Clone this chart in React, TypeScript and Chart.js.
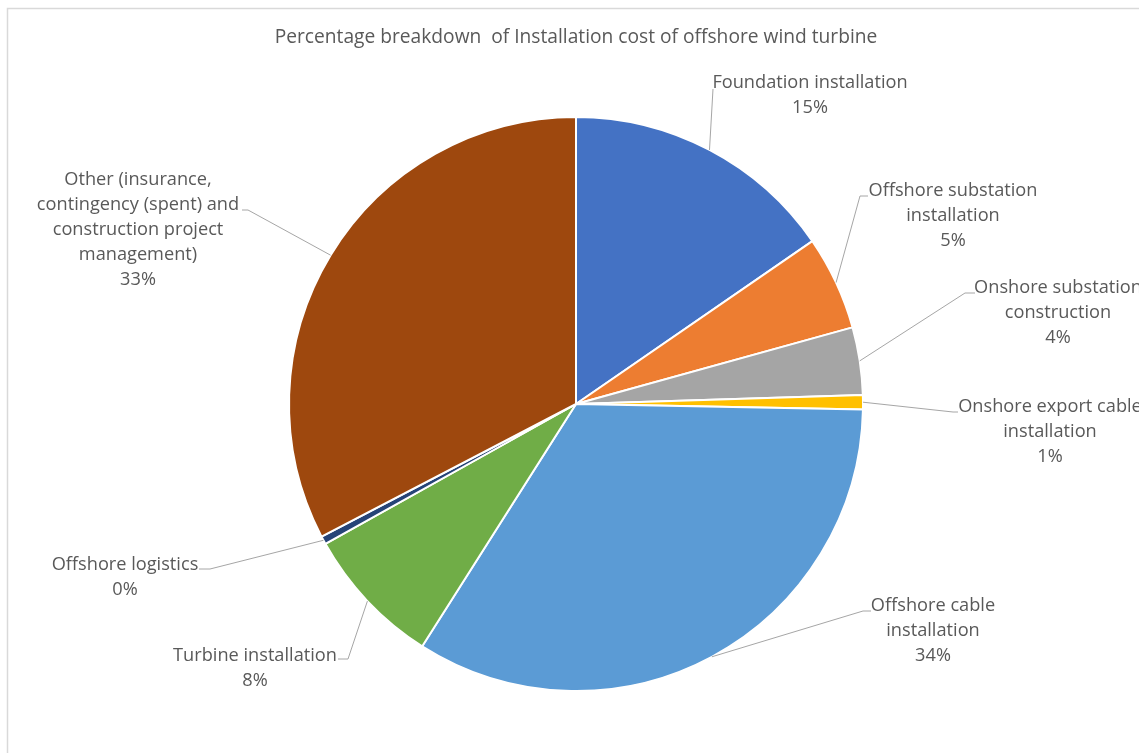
import React, { useEffect, useRef } from "react";
import { Chart, registerables } from "chart.js";

Chart.register(...registerables);

const TITLE = "Percentage breakdown  of Installation cost of offshore wind turbine";

const categories = [
  "Foundation installation",
  "Offshore substation installation",
  "Onshore substation construction",
  "Onshore export cable installation",
  "Offshore cable installation",
  "Turbine installation",
  "Offshore logistics",
  "Other (insurance, contingency (spent) and construction project management)",
];

const shares = [15.4, 5.3, 3.8, 0.8, 33.7, 7.9, 0.45, 32.65];

const labelLines = [
  ["Foundation installation"],
  ["Offshore substation", "installation"],
  ["Onshore substation", "construction"],
  ["Onshore export cable", "installation"],
  ["Offshore cable", "installation"],
  ["Turbine installation"],
  ["Offshore logistics"],
  ["Other (insurance,", "contingency (spent) and", "construction project", "management)"],
];

const colors = ["#4472C4", "#ED7D31", "#A5A5A5", "#FFC000", "#5B9BD5", "#70AD47", "#264478", "#9E480E"];

// label placement: text centre x, first line centre y, leader bend point, leader end point
const labelLayout = [
  { cx: 810, y: 83, bend: [713, 89], end: [713, 89] },
  { cx: 953, y: 191, bend: [860, 196], end: [868, 196] },
  { cx: 1058, y: 288, bend: [965, 293], end: [975, 293] },
  { cx: 1050, y: 407, bend: [953, 412], end: [958, 412] },
  { cx: 933, y: 606, bend: [863, 611], end: [871, 611] },
  { cx: 255, y: 656, bend: [348, 659], end: [338, 659] },
  { cx: 125, y: 565, bend: [210, 569], end: [199, 569] },
  { cx: 138, y: 180, bend: [248, 210], end: [242, 210] },
];

const FONT = "'Open Sans'";
const TEXT_COLOR = "#595959";

const decorPlugin = {
  id: "decor",
  beforeDraw(chart: any) {
    const ctx = chart.ctx;
    ctx.save();
    ctx.fillStyle = "#ffffff";
    ctx.fillRect(0, 0, chart.width, chart.height);
    ctx.strokeStyle = "#D9D9D9";
    ctx.lineWidth = 1.5;
    ctx.strokeRect(7.5, 8.5, chart.width + 20, chart.height + 20);
    ctx.restore();
  },
  afterDraw(chart: any) {
    const ctx = chart.ctx;
    const meta = chart.getDatasetMeta(0);
    const total = shares.reduce((a, b) => a + b, 0);
    ctx.save();
    // title
    ctx.fillStyle = TEXT_COLOR;
    ctx.font = `19.2px ${FONT}`;
    ctx.textAlign = "center";
    ctx.textBaseline = "middle";
    ctx.fillText(TITLE, 576, 38);

    meta.data.forEach((arc: any, i: number) => {
      const p = arc.getProps(["x", "y", "startAngle", "endAngle", "outerRadius"], true);
      const mid = (p.startAngle + p.endAngle) / 2;
      const ax = p.x + Math.cos(mid) * p.outerRadius;
      const ay = p.y + Math.sin(mid) * p.outerRadius;
      const L = labelLayout[i];
      ctx.strokeStyle = "#A6A6A6";
      ctx.lineWidth = 1;
      ctx.beginPath();
      ctx.moveTo(ax, ay);
      ctx.lineTo(L.bend[0], L.bend[1]);
      ctx.lineTo(L.end[0], L.end[1]);
      ctx.stroke();

      const pct = Math.round((shares[i] / total) * 100) + "%";
      const lines = [...labelLines[i], pct];
      ctx.fillStyle = TEXT_COLOR;
      ctx.font = `18.2px ${FONT}`;
      ctx.textAlign = "center";
      ctx.textBaseline = "middle";
      lines.forEach((t, k) => ctx.fillText(t, L.cx, L.y + k * 25));
    });
    ctx.restore();
  },
};

export default function App() {
  const ref = useRef<HTMLCanvasElement | null>(null);
  useEffect(() => {
    if (!ref.current) return;
    const chart = new Chart(ref.current, {
      type: "pie",
      data: {
        labels: categories,
        datasets: [
          {
            data: shares,
            backgroundColor: colors,
            borderColor: "#ffffff",
            borderWidth: 2,
          },
        ],
      },
      options: {
        responsive: false,
        animation: false,
        layout: { padding: { top: 116, bottom: 61, left: 288, right: 275 } },
        plugins: {
          legend: { display: false },
          tooltip: { enabled: false },
          title: { display: false },
        },
      },
      plugins: [decorPlugin],
    });
    return () => chart.destroy();
  }, []);
  return (
    <div style={{ position: "fixed", left: 0, top: 0, width: 1139, height: 753 }}>
      <canvas ref={ref} width={1139} height={753} style={{ display: "block", width: 1139, height: 753 }} />
    </div>
  );
}
